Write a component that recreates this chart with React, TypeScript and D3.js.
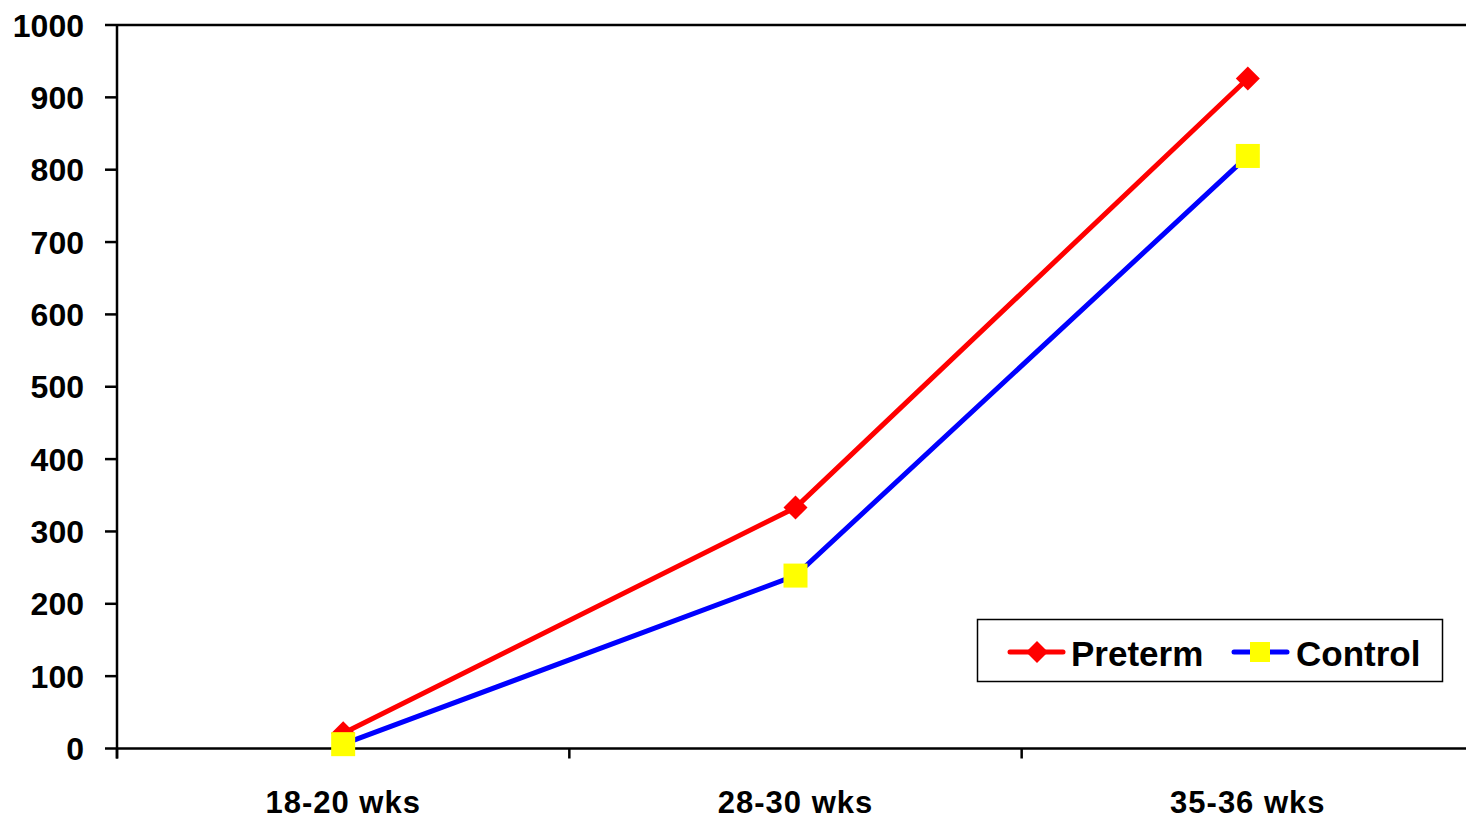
import React from "react";
import * as d3 from "d3";

const categories = ["18-20 wks", "28-30 wks", "35-36 wks"];
const preterm = [21, 333, 926];
const control = [6, 239, 819];
const yTicks = [0, 100, 200, 300, 400, 500, 600, 700, 800, 900, 1000];

const W = 1466;
const H = 820;
const left = 117;
const right = 1474;
const top = 25;
const bottom = 748.5;

export default function App() {
  const x = d3.scaleBand<string>().domain(categories).range([left, right]).padding(0);
  const y = d3.scaleLinear().domain([0, 1000]).range([bottom, top]);
  const cx = (c: string) => (x(c) as number) + x.bandwidth() / 2;
  const line = d3
    .line<number>()
    .x((_, i) => cx(categories[i]))
    .y((d) => y(d));
  const font = "'Liberation Sans', Arial, sans-serif";
  const diamond = (px: number, py: number, r: number) =>
    `M${px},${py - r}L${px + r},${py}L${px},${py + r}L${px - r},${py}Z`;
  const boundaries = categories.map((c) => x(c) as number).concat([right]);

  return (
    <svg
      width={W}
      height={H}
      style={{ position: "absolute", left: 0, top: 0, background: "#fff" }}
      fontFamily={font}
      fontWeight="bold"
    >
      {/* top border */}
      <line x1={left} x2={W} y1={top} y2={top} stroke="#000" strokeWidth={2.5} />
      {/* y axis */}
      <line x1={left} x2={left} y1={top} y2={bottom + 10} stroke="#000" strokeWidth={2.5} />
      {yTicks.map((t) => (
        <g key={t}>
          <line x1={105} x2={left} y1={y(t)} y2={y(t)} stroke="#000" strokeWidth={2.5} />
          <text x={84} y={y(t)} dy="0.36em" textAnchor="end" fontSize={32} fill="#000">
            {t}
          </text>
        </g>
      ))}
      {/* x axis */}
      <line x1={left} x2={W} y1={bottom} y2={bottom} stroke="#000" strokeWidth={2.5} />
      {boundaries.map((b, i) => (
        <line key={i} x1={b} x2={b} y1={bottom} y2={bottom + 10} stroke="#000" strokeWidth={2.5} />
      ))}
      {categories.map((c) => (
        <text key={c} x={cx(c)} y={813} textAnchor="middle" fontSize={31} fill="#000" letterSpacing={1}>
          {c}
        </text>
      ))}
      {/* preterm */}
      <path d={line(preterm) || ""} fill="none" stroke="#FF0000" strokeWidth={5} />
      {preterm.map((v, i) => (
        <path key={i} d={diamond(cx(categories[i]), y(v), 12)} fill="#FF0000" />
      ))}
      {/* control */}
      <path d={line(control) || ""} fill="none" stroke="#0000FF" strokeWidth={5} />
      {control.map((v, i) => (
        <rect key={i} x={cx(categories[i]) - 12} y={y(v) - 12} width={24} height={24} fill="#FFFF00" />
      ))}
      {/* legend */}
      <rect x={977.5} y={619.5} width={465} height={62} fill="#fff" stroke="#000" strokeWidth={1.5} />
      <line x1={1010} x2={1063} y1={652} y2={652} stroke="#FF0000" strokeWidth={5} strokeLinecap="round" />
      <path d={diamond(1037, 652, 11)} fill="#FF0000" />
      <text x={1071} y={653} dy="0.36em" fontSize={35} fill="#000">Preterm</text>
      <line x1={1234} x2={1287} y1={652} y2={652} stroke="#0000FF" strokeWidth={5} strokeLinecap="round" />
      <rect x={1250} y={642} width={20} height={20} fill="#FFFF00" />
      <text x={1296} y={653} dy="0.36em" fontSize={35} fill="#000">Control</text>
    </svg>
  );
}
